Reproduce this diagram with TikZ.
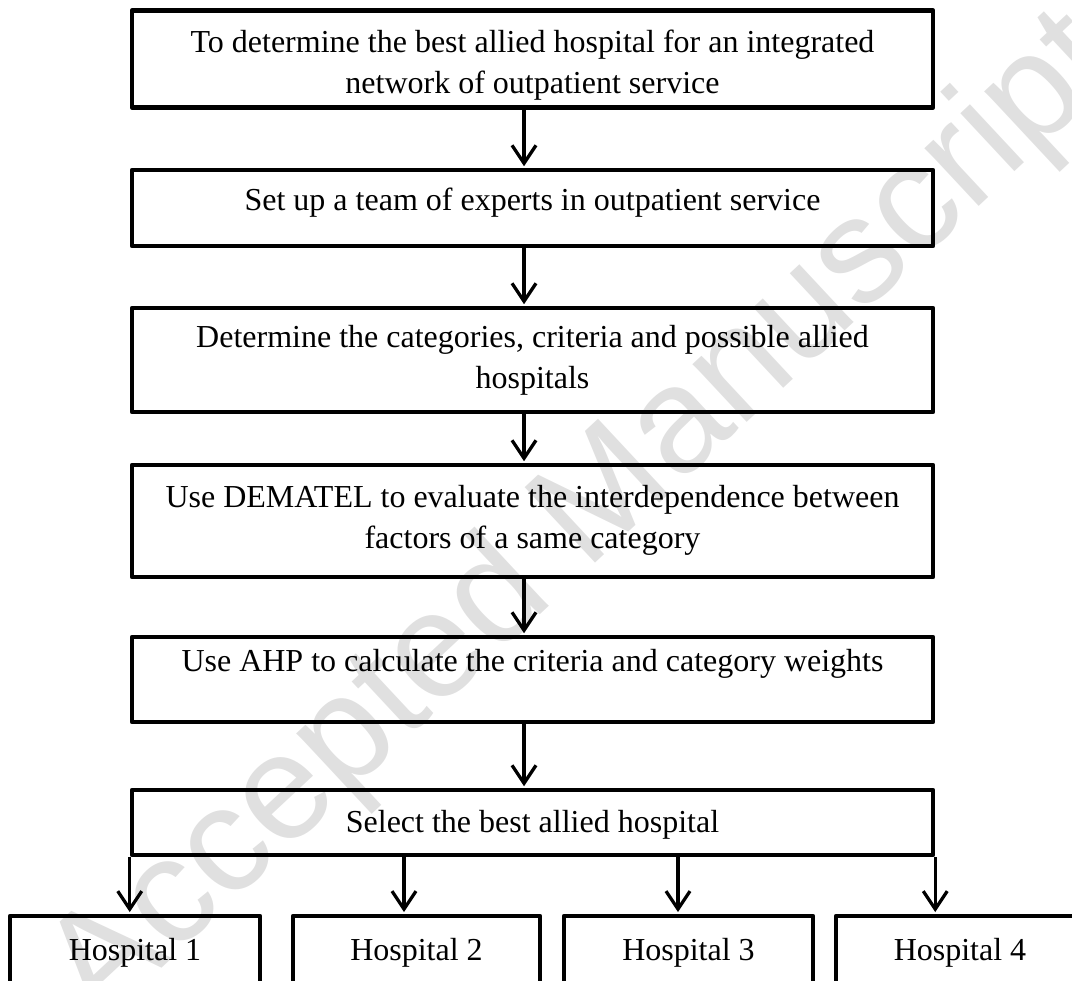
\documentclass[tikz,border=0pt]{standalone}
\usepackage{fontspec}
\setmainfont{Liberation Serif}
\newfontfamily\wmfont{Liberation Sans}
\usetikzlibrary{arrows.meta}
\definecolor{wmgray}{RGB}{224,224,224}
\begin{document}
\begin{tikzpicture}[x=1pt,y=-1pt,
  box/.style={draw, line width=4.5pt, line join=round, rectangle, inner sep=0pt, minimum width=801pt},
  hbox/.style={draw, line width=4.8pt, line join=round, rectangle, inner sep=0pt, minimum height=130pt},
  txt/.style={font=\fontsize{32}{41}\selectfont, align=center, inner sep=0pt},
  arr/.style={line width=3.3pt, -{Straight Barb[length=18pt,width=24pt,line width=3.3pt]}, shorten >=1.5pt}
]
\useasboundingbox (0,0) rectangle (1072,981);
\clip (0,0) rectangle (1072,981);
% watermark
\node[font=\wmfont\fontsize{150}{150}\selectfont, text=wmgray, rotate=43, inner sep=0pt] (wm) at (585,520) {Accepted Manuscript};

% main boxes
\node[box, minimum height=97pt]  (b1) at (532.5,59) {};
\node[box, minimum height=76pt]  (b2) at (532.5,208) {};
\node[box, minimum height=104pt] (b3) at (532.5,360) {};
\node[box, minimum height=112pt] (b4) at (532.5,521) {};
\node[box, minimum height=85pt]  (b5) at (532.5,679.5) {};
\node[box, minimum height=65pt]  (b6) at (532.5,822.5) {};

\node[txt] (t1) at (532.5,65) {To determine the best allied hospital for an integrated\\network of outpatient service};
\node[txt] (t2) at (532.5,202.5) {Set up a team of experts in outpatient service};
\node[txt] (t3) at (532.5,360) {Determine the categories, criteria and possible allied\\hospitals};
\node[txt] (t4) at (532.5,520) {Use DEMATEL to evaluate the interdependence between\\factors of a same category};
\node[txt] (t5) at (532.5,664) {Use AHP to calculate the criteria and category weights};
\node[txt] (t6) at (532.5,824.5) {Select the best allied hospital};

% hospital boxes
\node[hbox, minimum width=250pt] (h1) at (135,981) {};
\node[hbox, minimum width=247pt] (h2) at (416.5,981) {};
\node[hbox, minimum width=249pt] (h3) at (688.5,981) {};
\node[hbox, minimum width=248pt] (h4) at (960,981) {};
\node[txt] (ht1) at (135,952.5) {Hospital 1};
\node[txt] (ht2) at (416.5,952.5) {Hospital 2};
\node[txt] (ht3) at (688.5,952.5) {Hospital 3};
\node[txt] (ht4) at (960,952.5) {Hospital 4};

% connectors
\coordinate (ax) at (524,0);
\draw[arr] (b1.south -| ax) -- (b2.north -| ax);
\draw[arr] (b2.south -| ax) -- (b3.north -| ax);
\draw[arr] (b3.south -| ax) -- (b4.north -| ax);
\draw[arr] (b4.south -| ax) -- (b5.north -| ax);
\draw[arr] (b5.south -| ax) -- (b6.north -| ax);

\coordinate (x2) at (404,0);
\coordinate (x3) at (678,0);
\draw[arr] (b6.south west) -- (b6.south west |- h1.north);
\draw[arr] (b6.south -| x2) -- (h2.north -| x2);
\draw[arr] (b6.south -| x3) -- (h3.north -| x3);
\draw[arr] (b6.south east) -- (b6.south east |- h4.north);
\end{tikzpicture}
\end{document}
